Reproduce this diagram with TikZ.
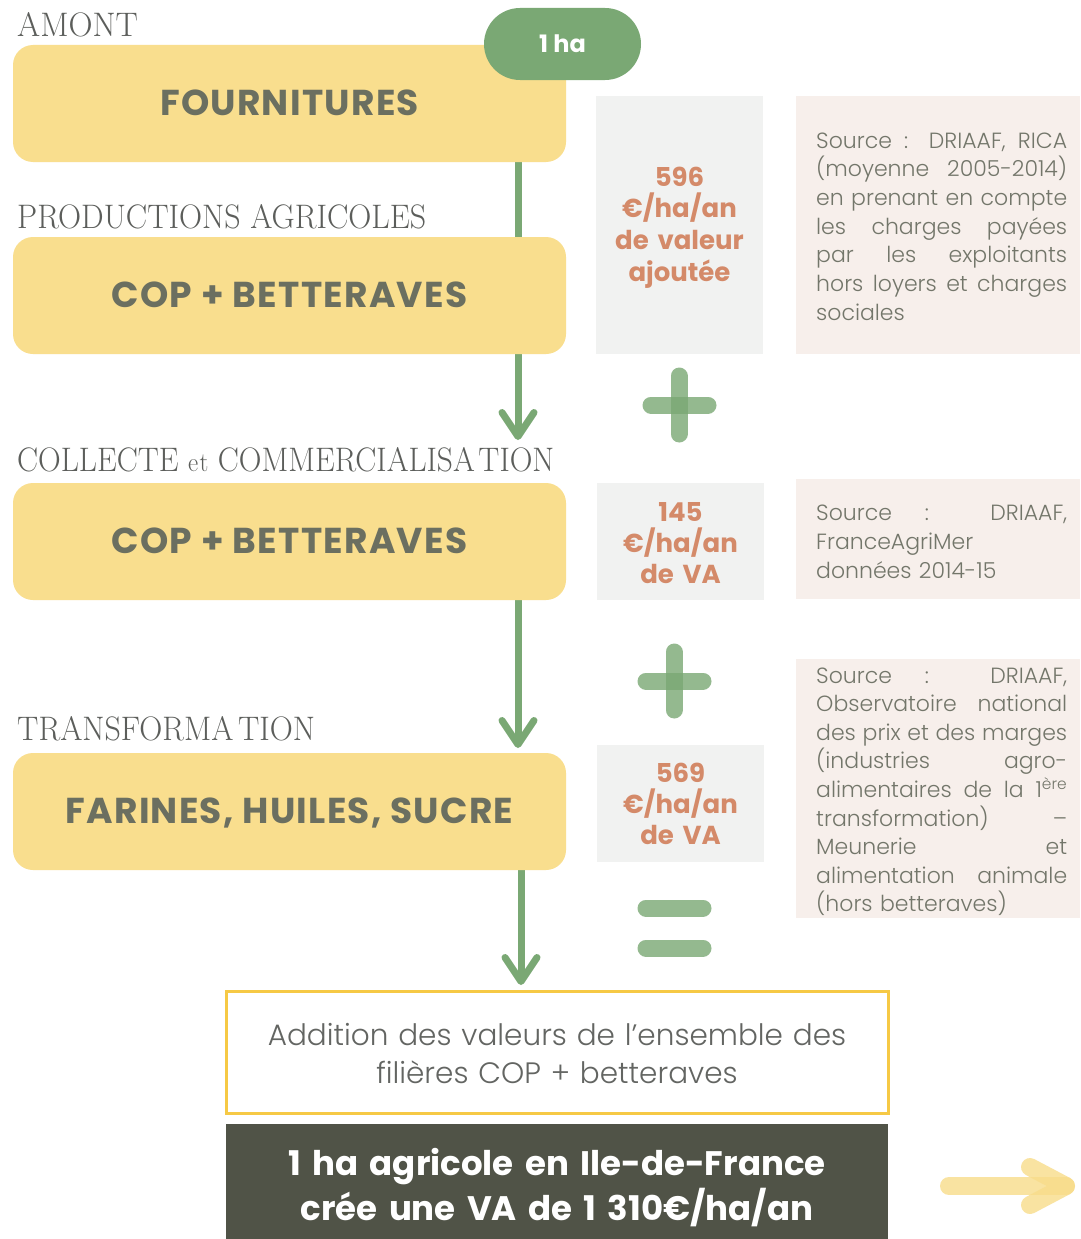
\documentclass[tikz,border=0pt]{standalone}
\usepackage{fontspec}
\usepackage{graphicx}
\usetikzlibrary{arrows.meta,backgrounds}
\newfontfamily\ral{Poppins}
\newfontfamily\raltitle{Poppins}[LetterSpace=3.5]
\newfontfamily\rallight{Poppins Light}
\definecolor{stageyellow}{HTML}{F9DE8E}
\definecolor{titlegrey}{HTML}{6B6F60}
\definecolor{headgrey}{HTML}{5C5E5B}
\definecolor{sumgrey}{HTML}{636562}
\definecolor{leafgreen}{HTML}{7AA874}
\definecolor{salmon}{HTML}{D48A69}
\definecolor{mistgrey}{HTML}{F1F2F1}
\definecolor{blush}{HTML}{F7EFEB}
\definecolor{slate}{HTML}{505347}
\definecolor{gold}{HTML}{F6C945}
\definecolor{paleyellow}{HTML}{F8DC8A}
\definecolor{srcgrey}{HTML}{73766A}
% heading captions are set slightly condensed
\newcommand{\hd}[2][0.94]{\scalebox{#1}[1]{#2}}
% one fully justified line of a source note
\newcommand{\jl}[1]{\makebox[251pt][s]{\spaceskip=0pt\xspaceskip=0pt #1}}
\begin{document}
\begin{tikzpicture}[x=1pt,y=-1pt,
  stage/.style={rounded corners=20pt, fill=stageyellow, minimum width=553pt,
    minimum height=117pt, inner sep=0pt, text=titlegrey,
    font=\raltitle\bfseries\fontsize{36}{40}\selectfont, text height=24pt, text depth=0pt},
  pill/.style={rounded corners=36pt, fill=leafgreen, minimum width=157pt,
    minimum height=72pt, inner sep=0pt, text=white,
    font=\ral\bfseries\fontsize{24}{26}\selectfont},
  head/.style={anchor=base west, inner sep=0pt, text=headgrey,
    font=\rmfamily\fontsize{34}{36}\selectfont},
  flow/.style={draw=leafgreen, line width=7pt,
    -{Straight Barb[length=24pt,width=32pt,round]}},
  valbox/.style={fill=mistgrey, inner sep=0pt, minimum width=167pt},
  srcbox/.style={fill=blush, inner sep=0pt, minimum width=284pt},
  valtext/.style={anchor=base, text width=167pt, align=center, inner sep=0pt,
    text=salmon, font=\ral\bfseries\fontsize{26}{31.8}\selectfont},
  srctext/.style={anchor=base west, text width=251pt, align=left, inner sep=0pt,
    text=srcgrey, font=\rallight\fontsize{22}{28.7}\selectfont},
  sign/.style={draw=leafgreen, line width=17pt, line cap=round, draw opacity=0.8},
  nudge/.style={draw=paleyellow, line width=18pt, line cap=round,
    line join=round, draw opacity=0.8}]

\useasboundingbox (0,0) rectangle (1080,1239);

% chain stages
\node[stage] (fourn)  at (289.5,103.5) {FOURNITURES};
\node[stage] (prod)   at (289.5,295.5) {COP + BETTERAVES};
\node[stage] (coll)   at (289.5,541.5) {COP + BETTERAVES};
\node[stage] (transf) at (289.5,811.5) {FARINES, HUILES, SUCRE};
\node[pill]  (ha)     at (562.5,44) {1 ha};

% stage captions
\node[head] (hAmont)  at (17,37)  {\hd[0.98]{AMONT}};
\node[head] (hProd)   at (17,228) {\hd{PRODUCTIONS AGRICOLES}};
\node[head] (hColl)   at (17,471) {\hd[0.925]{COLLECTE {\fontsize{27}{28}\selectfont e\kern1.5pt t} COMMERCIALISA\kern4pt TION}};
\node[head] (hTransf) at (17,740) {\hd{TRANSFORMA\kern5pt TION}};

% flow arrows, behind the stages
\coordinate (tip1) at (518,440);
\coordinate (tip2) at (518,748);
\coordinate (tip3) at (521,985);
\begin{scope}[on background layer]
  \fill[white] (0,0) rectangle (1080,1239);
  \draw[flow] (fourn.south -| tip1) -- (tip1);
  \draw[flow] (coll.south -| tip2) -- (tip2);
  \draw[flow] (transf.south -| tip3) -- (tip3);
\end{scope}

% added value per stage
\node[valbox, minimum height=258pt] (v1) at (679.5,225) {};
\node[valbox, minimum height=117pt] (v2) at (680.5,541.5) {};
\node[valbox, minimum height=117pt] (v3) at (680.5,803.5) {};
\node[valtext] (t1) at (679.5,186) {596\\€/ha/an\\de valeur\\ajoutée};
\node[valtext, font=\ral\bfseries\fontsize{26}{31}\selectfont] (t2) at (680.5,521) {145\\€/ha/an\\de VA};
\node[valtext, font=\ral\bfseries\fontsize{26}{31}\selectfont] (t3) at (680.5,782) {569\\€/ha/an\\de VA};

% sources
\node[srcbox, minimum height=258pt] (s1) at (938,225) {};
\node[srcbox, minimum height=120pt] (s2) at (938,539) {};
\node[srcbox, minimum height=259pt] (s3) at (938,788.5) {};
\node[srctext] (n1) at (816,148) {\jl{Source : DRIAAF, RICA}\\
  \jl{(moyenne 2005-2014)}\\
  \jl{en prenant en compte}\\
  \jl{les charges payées}\\
  \jl{par les exploitants}\\
  \jl{hors loyers et charges}\\
  sociales};
\node[srctext, font=\rallight\fontsize{22}{29}\selectfont] (n2) at (816,520) {\jl{Source : DRIAAF,}\\
  FranceAgriMer\\
  données 2014-15};
\node[srctext, font=\rallight\fontsize{22}{28.6}\selectfont] (n3) at (816,683) {\jl{Source : DRIAAF,}\\
  \jl{Observatoire national}\\
  \jl{des prix et des marges}\\
  \jl{(industries agro-}\\
  \jl{alimentaires de la 1\textsuperscript{ère}}\\
  \jl{transformation) –}\\
  \jl{Meunerie et}\\
  \jl{alimentation animale}\\
  (hors betteraves)};

% operators
\draw[sign] (679,376) -- (679,434);
\draw[sign] (651,405) -- (708,405);
\draw[sign] (674,652) -- (674,710);
\draw[sign] (646,681) -- (703,681);
\draw[sign] (646,908) -- (703,908);
\draw[sign] (646,948) -- (703,948);

% total
\node[draw=gold, line width=3pt, fill=white, minimum width=662pt,
  minimum height=122pt, inner sep=0pt] (sum) at (557,1052) {};
\node[anchor=base, align=center, text width=640pt, inner sep=0pt, text=sumgrey,
  font=\rallight\fontsize{29.5}{38.5}\selectfont] (sumtxt) at (557,1045)
  {Addition des valeurs de l’ensemble des\\filières COP + betteraves};
\node[fill=slate, minimum width=662pt, minimum height=115pt, inner sep=0pt]
  (result) at (557,1181.5) {};
\node[anchor=base, align=center, text width=640pt, inner sep=0pt, text=white,
  font=\ral\bfseries\fontsize{34}{45}\selectfont] (restxt) at (557,1175)
  {1 ha agricole en Ile-de-France\\crée une VA de 1 310€/ha/an};

% pointer to the next page
\coordinate (ya) at (949,1186);
\coordinate (yb) at (1066,1186);
\draw[nudge] (ya) -- (yb);
\draw[nudge] (1030,1167) -- (yb) -- (1030,1205);
\end{tikzpicture}
\end{document}
